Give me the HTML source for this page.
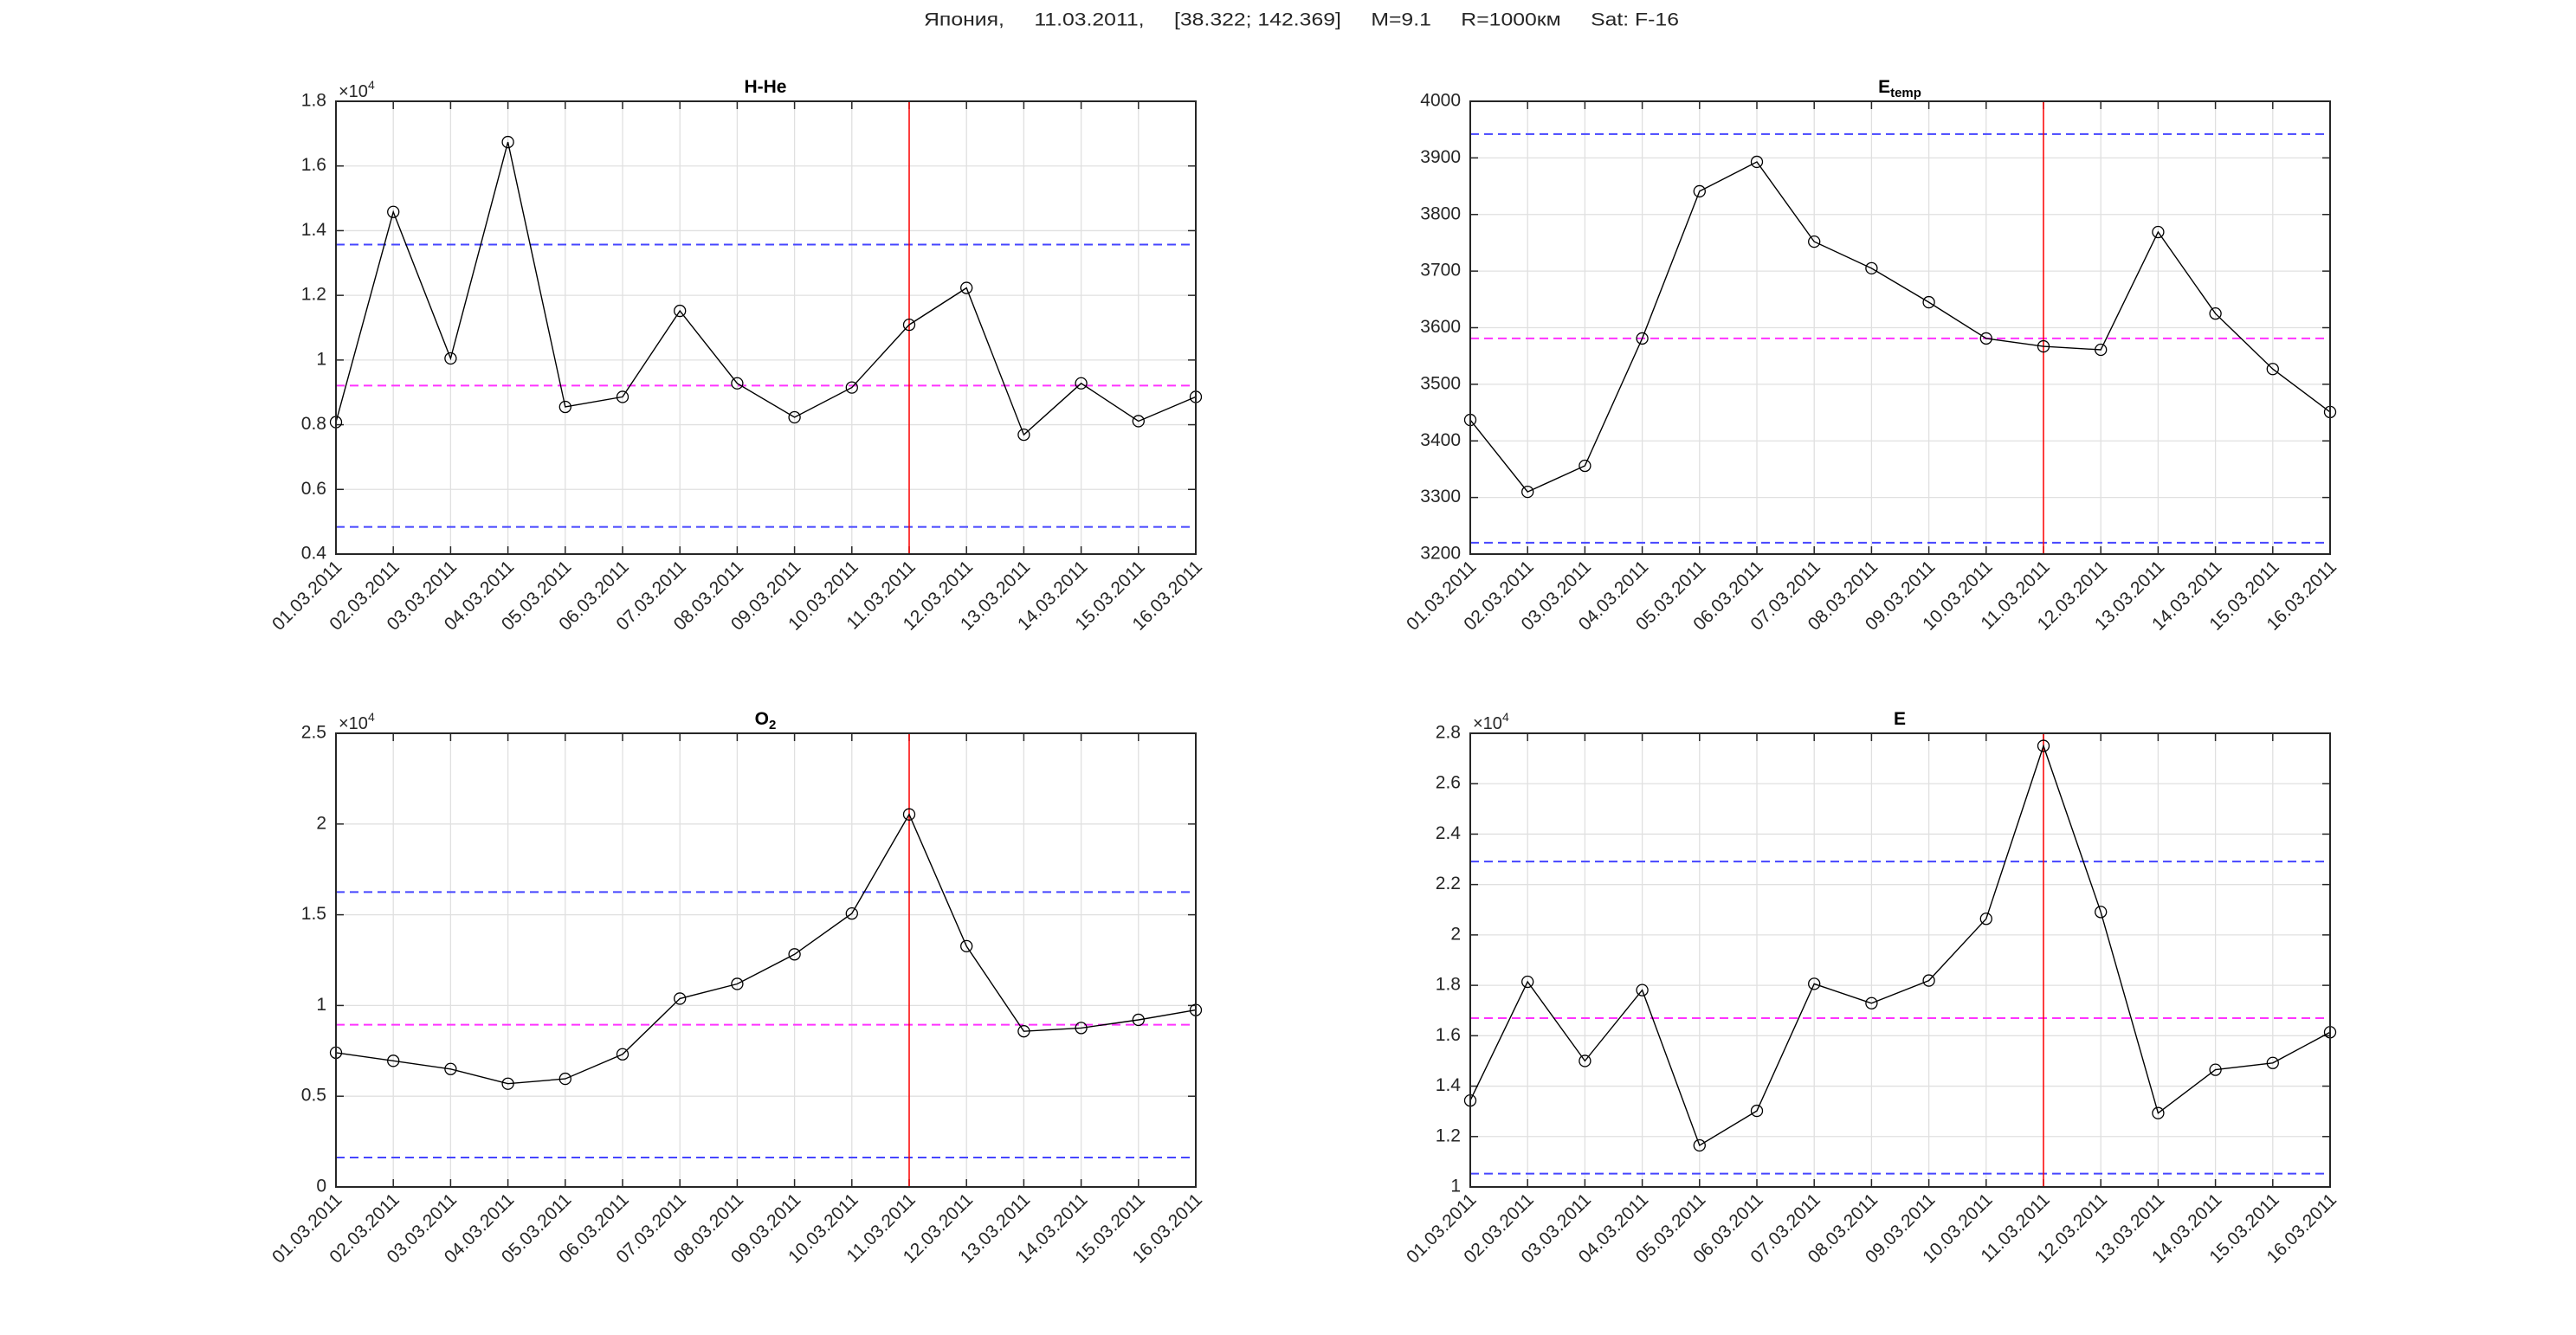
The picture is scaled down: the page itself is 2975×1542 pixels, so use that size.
<!DOCTYPE html>
<html><head><meta charset="utf-8"><style>
html,body{margin:0;padding:0;background:#fff}
svg{display:block}
text{font-family:"Liberation Sans",Arial,sans-serif;fill:#262626}
.yl{font-size:21px;text-anchor:end;dominant-baseline:middle}
.xl{font-size:21px;text-anchor:end}
.tt{font-size:21px;font-weight:bold;text-anchor:middle;fill:#000}
</style></head><body>
<svg id="s" width="2975" height="1542" viewBox="0 0 2975 1542" xmlns="http://www.w3.org/2000/svg">
<rect width="2975" height="1542" fill="#fff"/>
<text x="1503" y="24" font-size="21" text-anchor="middle" dominant-baseline="middle" fill="#000" xml:space="preserve" textLength="872" lengthAdjust="spacingAndGlyphs">Япония,     11.03.2011,     [38.322; 142.369]     M=9.1     R=1000км     Sat: F-16</text>
<g id="geo"></g>

<!-- Titles -->
<text class="tt" x="884" y="107">H-He</text>
<text class="tt" x="2194" y="107">E<tspan font-size="15" dy="5">temp</tspan></text>
<text class="tt" x="884" y="837">O<tspan font-size="15" dy="5">2</tspan></text>
<text class="tt" x="2194" y="837">E</text>

<!-- x10^4 -->
<text x="391" y="112" font-size="20">×10<tspan font-size="14" dy="-9">4</tspan></text>
<text x="391" y="842" font-size="20">×10<tspan font-size="14" dy="-9">4</tspan></text>
<text x="1701" y="842" font-size="20">×10<tspan font-size="14" dy="-9">4</tspan></text>

<!-- Y labels TL 0.4..1.8 -->
<g class="yl">
<text class="yl" x="377" y="640">0.4</text><text class="yl" x="377" y="565.3">0.6</text><text class="yl" x="377" y="490.5">0.8</text><text class="yl" x="377" y="415.8">1</text><text class="yl" x="377" y="341.1">1.2</text><text class="yl" x="377" y="266.4">1.4</text><text class="yl" x="377" y="191.7">1.6</text><text class="yl" x="377" y="117">1.8</text>
<text class="yl" x="1687" y="640">3200</text><text class="yl" x="1687" y="574.6">3300</text><text class="yl" x="1687" y="509.3">3400</text><text class="yl" x="1687" y="443.9">3500</text><text class="yl" x="1687" y="378.5">3600</text><text class="yl" x="1687" y="313.1">3700</text><text class="yl" x="1687" y="247.8">3800</text><text class="yl" x="1687" y="182.4">3900</text><text class="yl" x="1687" y="117">4000</text>
<text class="yl" x="377" y="1371">0</text><text class="yl" x="377" y="1266.2">0.5</text><text class="yl" x="377" y="1161.4">1</text><text class="yl" x="377" y="1056.6">1.5</text><text class="yl" x="377" y="951.8">2</text><text class="yl" x="377" y="847">2.5</text>
<text class="yl" x="1687" y="1371">1</text><text class="yl" x="1687" y="1312.8">1.2</text><text class="yl" x="1687" y="1254.6">1.4</text><text class="yl" x="1687" y="1196.3">1.6</text><text class="yl" x="1687" y="1138.1">1.8</text><text class="yl" x="1687" y="1079.9">2</text><text class="yl" x="1687" y="1021.7">2.2</text><text class="yl" x="1687" y="963.4">2.4</text><text class="yl" x="1687" y="905.2">2.6</text><text class="yl" x="1687" y="847">2.8</text>
</g>

<!-- X labels -->
<g id="xl1">
<text class="xl" transform="translate(396,656) rotate(-45)">01.03.2011</text>
<text class="xl" transform="translate(462.2,656) rotate(-45)">02.03.2011</text>
<text class="xl" transform="translate(528.5,656) rotate(-45)">03.03.2011</text>
<text class="xl" transform="translate(594.7,656) rotate(-45)">04.03.2011</text>
<text class="xl" transform="translate(660.9,656) rotate(-45)">05.03.2011</text>
<text class="xl" transform="translate(727.2,656) rotate(-45)">06.03.2011</text>
<text class="xl" transform="translate(793.4,656) rotate(-45)">07.03.2011</text>
<text class="xl" transform="translate(859.6,656) rotate(-45)">08.03.2011</text>
<text class="xl" transform="translate(925.9,656) rotate(-45)">09.03.2011</text>
<text class="xl" transform="translate(992.1,656) rotate(-45)">10.03.2011</text>
<text class="xl" transform="translate(1058.3,656) rotate(-45)">11.03.2011</text>
<text class="xl" transform="translate(1124.6,656) rotate(-45)">12.03.2011</text>
<text class="xl" transform="translate(1190.8,656) rotate(-45)">13.03.2011</text>
<text class="xl" transform="translate(1257,656) rotate(-45)">14.03.2011</text>
<text class="xl" transform="translate(1323.3,656) rotate(-45)">15.03.2011</text>
<text class="xl" transform="translate(1389.5,656) rotate(-45)">16.03.2011</text>
</g>
<g transform="translate(1310,0)">
<text class="xl" transform="translate(396,656) rotate(-45)">01.03.2011</text>
<text class="xl" transform="translate(462.2,656) rotate(-45)">02.03.2011</text>
<text class="xl" transform="translate(528.5,656) rotate(-45)">03.03.2011</text>
<text class="xl" transform="translate(594.7,656) rotate(-45)">04.03.2011</text>
<text class="xl" transform="translate(660.9,656) rotate(-45)">05.03.2011</text>
<text class="xl" transform="translate(727.2,656) rotate(-45)">06.03.2011</text>
<text class="xl" transform="translate(793.4,656) rotate(-45)">07.03.2011</text>
<text class="xl" transform="translate(859.6,656) rotate(-45)">08.03.2011</text>
<text class="xl" transform="translate(925.9,656) rotate(-45)">09.03.2011</text>
<text class="xl" transform="translate(992.1,656) rotate(-45)">10.03.2011</text>
<text class="xl" transform="translate(1058.3,656) rotate(-45)">11.03.2011</text>
<text class="xl" transform="translate(1124.6,656) rotate(-45)">12.03.2011</text>
<text class="xl" transform="translate(1190.8,656) rotate(-45)">13.03.2011</text>
<text class="xl" transform="translate(1257,656) rotate(-45)">14.03.2011</text>
<text class="xl" transform="translate(1323.3,656) rotate(-45)">15.03.2011</text>
<text class="xl" transform="translate(1389.5,656) rotate(-45)">16.03.2011</text>
</g>
<g transform="translate(0,731)">
<text class="xl" transform="translate(396,656) rotate(-45)">01.03.2011</text>
<text class="xl" transform="translate(462.2,656) rotate(-45)">02.03.2011</text>
<text class="xl" transform="translate(528.5,656) rotate(-45)">03.03.2011</text>
<text class="xl" transform="translate(594.7,656) rotate(-45)">04.03.2011</text>
<text class="xl" transform="translate(660.9,656) rotate(-45)">05.03.2011</text>
<text class="xl" transform="translate(727.2,656) rotate(-45)">06.03.2011</text>
<text class="xl" transform="translate(793.4,656) rotate(-45)">07.03.2011</text>
<text class="xl" transform="translate(859.6,656) rotate(-45)">08.03.2011</text>
<text class="xl" transform="translate(925.9,656) rotate(-45)">09.03.2011</text>
<text class="xl" transform="translate(992.1,656) rotate(-45)">10.03.2011</text>
<text class="xl" transform="translate(1058.3,656) rotate(-45)">11.03.2011</text>
<text class="xl" transform="translate(1124.6,656) rotate(-45)">12.03.2011</text>
<text class="xl" transform="translate(1190.8,656) rotate(-45)">13.03.2011</text>
<text class="xl" transform="translate(1257,656) rotate(-45)">14.03.2011</text>
<text class="xl" transform="translate(1323.3,656) rotate(-45)">15.03.2011</text>
<text class="xl" transform="translate(1389.5,656) rotate(-45)">16.03.2011</text>
</g>
<g transform="translate(1310,731)">
<text class="xl" transform="translate(396,656) rotate(-45)">01.03.2011</text>
<text class="xl" transform="translate(462.2,656) rotate(-45)">02.03.2011</text>
<text class="xl" transform="translate(528.5,656) rotate(-45)">03.03.2011</text>
<text class="xl" transform="translate(594.7,656) rotate(-45)">04.03.2011</text>
<text class="xl" transform="translate(660.9,656) rotate(-45)">05.03.2011</text>
<text class="xl" transform="translate(727.2,656) rotate(-45)">06.03.2011</text>
<text class="xl" transform="translate(793.4,656) rotate(-45)">07.03.2011</text>
<text class="xl" transform="translate(859.6,656) rotate(-45)">08.03.2011</text>
<text class="xl" transform="translate(925.9,656) rotate(-45)">09.03.2011</text>
<text class="xl" transform="translate(992.1,656) rotate(-45)">10.03.2011</text>
<text class="xl" transform="translate(1058.3,656) rotate(-45)">11.03.2011</text>
<text class="xl" transform="translate(1124.6,656) rotate(-45)">12.03.2011</text>
<text class="xl" transform="translate(1190.8,656) rotate(-45)">13.03.2011</text>
<text class="xl" transform="translate(1257,656) rotate(-45)">14.03.2011</text>
<text class="xl" transform="translate(1323.3,656) rotate(-45)">15.03.2011</text>
<text class="xl" transform="translate(1389.5,656) rotate(-45)">16.03.2011</text>
</g>
</svg>
<script>
(function(){
var NS="http://www.w3.org/2000/svg",g=document.getElementById("geo");
function el(t,a){var e=document.createElementNS(NS,t);for(var k in a)e.setAttribute(k,a[k]);g.appendChild(e);return e;}
var P=[
{L:388,R:1381,T:117,B:640,y0:0.4,y1:1.8,yt:[0.4,0.6,0.8,1,1.2,1.4,1.6,1.8],
 d:[0.808,1.458,1.005,1.674,0.855,0.886,1.152,0.928,0.823,0.915,1.109,1.223,0.769,0.928,0.811,0.886],h:[1.357,0.921,0.484]},
{L:1698,R:2691,T:117,B:640,y0:3200,y1:4000,yt:[3200,3300,3400,3500,3600,3700,3800,3900,4000],
 d:[3437,3310,3356,3581,3841,3893,3752,3705,3645,3581,3567,3561,3769,3625,3527,3451],h:[3942,3581,3220]},
{L:388,R:1381,T:847,B:1371,y0:0,y1:2.5,yt:[0,0.5,1,1.5,2,2.5],
 d:[0.740,0.695,0.650,0.569,0.596,0.731,1.038,1.119,1.282,1.507,2.053,1.327,0.858,0.876,0.921,0.975],h:[1.625,0.894,0.162]},
{L:1698,R:2691,T:847,B:1371,y0:1,y1:2.8,yt:[1,1.2,1.4,1.6,1.8,2,2.2,2.4,2.6,2.8],
 d:[1.343,1.814,1.50,1.781,1.165,1.302,1.806,1.729,1.819,2.064,2.75,2.091,1.293,1.465,1.492,1.614],h:[2.291,1.670,1.053]}
];
P.forEach(function(p){
 var W=p.R-p.L,dx=W/15;
 function Y(v){return p.B-(v-p.y0)/(p.y1-p.y0)*(p.B-p.T);}
 for(var i=0;i<16;i++){var x=p.L+i*dx;
  el("line",{x1:x,y1:p.T,x2:x,y2:p.B,stroke:"#e0e0e0","stroke-width":1.3});}
 p.yt.forEach(function(v){var y=Y(v);el("line",{x1:p.L,y1:y,x2:p.R,y2:y,stroke:"#e0e0e0","stroke-width":1.3});});
 // ticks
 for(var i=0;i<16;i++){var x=p.L+i*dx;
  el("line",{x1:x,y1:p.B,x2:x,y2:p.B-9,stroke:"#262626","stroke-width":1.5});
  el("line",{x1:x,y1:p.T,x2:x,y2:p.T+9,stroke:"#262626","stroke-width":1.5});}
 p.yt.forEach(function(v){var y=Y(v);
  el("line",{x1:p.L,y1:y,x2:p.L+9,y2:y,stroke:"#262626","stroke-width":1.5});
  el("line",{x1:p.R,y1:y,x2:p.R-9,y2:y,stroke:"#262626","stroke-width":1.5});});
 var cols=["#4646ff","#ff33ff","#4646ff"];
 p.h.forEach(function(v,k){var y=Y(v);
  el("line",{x1:p.L,y1:y,x2:p.R,y2:y,stroke:cols[k],"stroke-width":2,"stroke-dasharray":"10,6"});});
 var rx=p.L+10*dx;
 el("line",{x1:rx,y1:p.T,x2:rx,y2:p.B,stroke:"#ff0000","stroke-width":1.5});
 var pts=p.d.map(function(v,i){return (p.L+i*dx).toFixed(1)+","+Y(v).toFixed(1);}).join(" ");
 el("polyline",{points:pts,fill:"none",stroke:"#000","stroke-width":1.4});
 p.d.forEach(function(v,i){el("circle",{cx:p.L+i*dx,cy:Y(v),r:6.5,fill:"none",stroke:"#000","stroke-width":1.3});});
 el("rect",{x:p.L,y:p.T,width:W,height:p.B-p.T,fill:"none",stroke:"#262626","stroke-width":2});
});
})();
</script>
</body></html>
